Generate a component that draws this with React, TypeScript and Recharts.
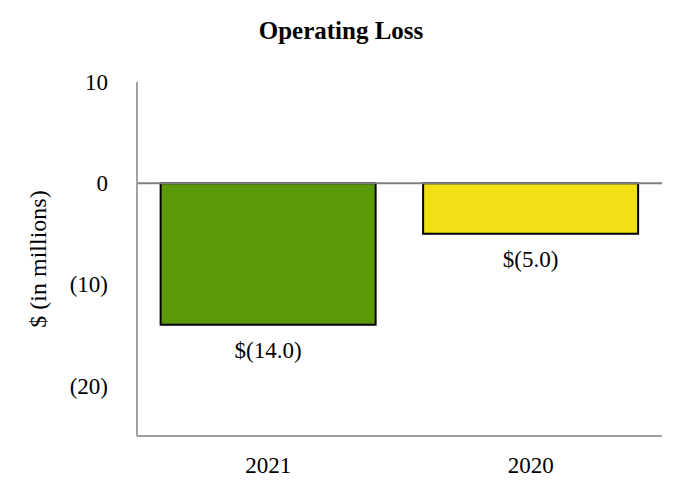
import { Bar, BarChart, Cell, LabelList, ReferenceLine, XAxis, YAxis } from "recharts";

const years = ["2021", "2020"];
const operatingLoss = [-14.0, -5.0];
const barColors = ["#5a9a08", "#f0e014"];
const yTicks = [10, 0, -10, -20];

const data = years.map((year, i) => ({ year, value: operatingLoss[i] }));

const font = '"Liberation Serif", "Times New Roman", serif';

const fmt = (v: number) => (v < 0 ? `(${Math.abs(v)})` : `${v}`);

function BelowLabel(props: any) {
  const { x, y, width, height, value } = props;
  const bottom = Math.max(y, y + height);
  return (
    <text
      x={x + width / 2}
      y={bottom + 17}
      dy="0.71em"
      textAnchor="middle"
      fontFamily={font}
      fontSize={23}
      fill="#000"
    >
      {`$(${Math.abs(value).toFixed(1)})`}
    </text>
  );
}

export default function App() {
  return (
    <div style={{ position: "relative", width: 682, height: 500, margin: -8, background: "#fff" }}>
      <div
        style={{
          position: "absolute",
          top: 17,
          left: 0,
          width: 682,
          textAlign: "center",
          fontFamily: font,
          fontWeight: "bold",
          fontSize: 25,
        }}
      >
        Operating Loss
      </div>
      <BarChart
        width={682}
        height={500}
        data={data}
        margin={{ top: 82, right: 20, bottom: 34, left: 0 }}
        barCategoryGap="9%"
      >
        <XAxis
          dataKey="year"
          height={30}
          tickLine={false}
          tickSize={0}
          tickMargin={21}
          axisLine={{ stroke: "#a0a0a0", strokeWidth: 2 }}
          tick={{ fill: "#000", fontSize: 23, fontFamily: font }}
        />
        <YAxis
          width={137}
          domain={[-25, 10]}
          ticks={yTicks}
          tickFormatter={fmt}
          tickLine={false}
          tickSize={0}
          tickMargin={29}
          axisLine={{ stroke: "#a0a0a0", strokeWidth: 2 }}
          tick={{ fill: "#000", fontSize: 23, fontFamily: font }}
          label={{
            value: "$ (in millions)",
            angle: -90,
            position: "insideLeft",
            offset: 37,
            style: { textAnchor: "middle", fill: "#000", fontSize: 24, fontFamily: font },
          }}
        />
        <ReferenceLine y={0} stroke="#808080" strokeWidth={2} />
        <Bar dataKey="value" stroke="#000" strokeWidth={2} isAnimationActive={false}>
          {data.map((d, i) => (
            <Cell key={d.year} fill={barColors[i]} />
          ))}
          <LabelList dataKey="value" content={BelowLabel} />
        </Bar>
      </BarChart>
    </div>
  );
}
